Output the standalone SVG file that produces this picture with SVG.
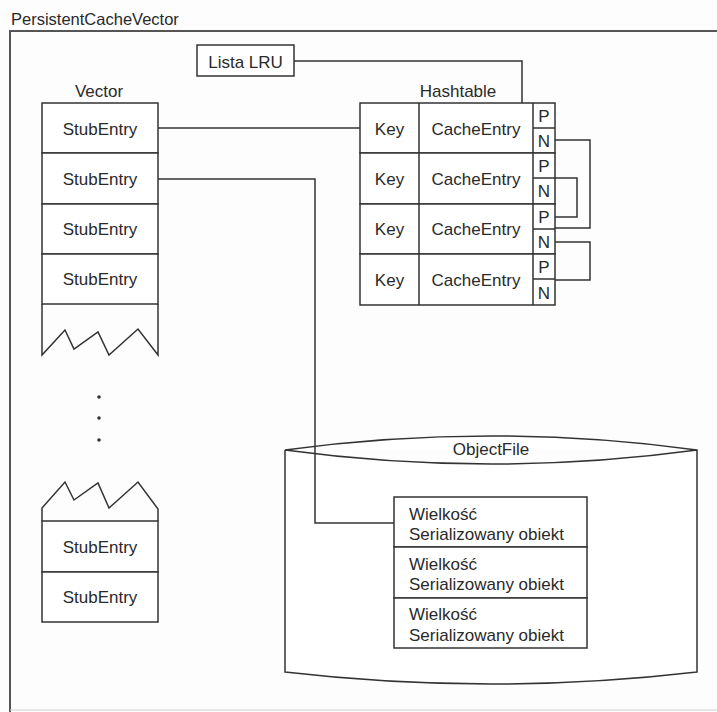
<svg xmlns="http://www.w3.org/2000/svg" width="717" height="712" viewBox="0 0 717 712">
<style>
  text { font-family: "Liberation Sans", Arial, sans-serif; font-size: 17px; fill: #2a2a2a; }
  .c { text-anchor: middle; }
  .box { fill: #fff; stroke: #333; stroke-width: 1.5; }
  .ln { fill: none; stroke: #333; stroke-width: 1.5; }
  .frame { fill: none; stroke: #555; stroke-width: 2; }
</style>
<rect width="717" height="712" fill="#fdfdfd"/>
<g id="frame">
  <text x="11" y="25" style="font-size:16.5px">PersistentCacheVector</text>
  <path class="frame" d="M10,712 V31 H717"/>
  <line x1="10" y1="710" x2="717" y2="710" stroke="#d0d0d0" stroke-width="1"/>
</g>
<g id="lista-lru">
  <rect class="box" x="197" y="45" width="97" height="31"/>
  <text class="c" x="245.5" y="68">Lista LRU</text>
</g>
<g id="vector">
  <text class="c" x="99" y="97">Vector</text>
  <rect class="box" x="42" y="103" width="116" height="50"/>
  <rect class="box" x="42" y="153" width="116" height="51"/>
  <rect class="box" x="42" y="204" width="116" height="50"/>
  <rect class="box" x="42" y="254" width="116" height="50"/>
  <text class="c" x="100" y="135">StubEntry</text>
  <text class="c" x="100" y="185">StubEntry</text>
  <text class="c" x="100" y="235">StubEntry</text>
  <text class="c" x="100" y="285">StubEntry</text>
  <path class="ln" d="M42,304 V355 L65,330 L74,349 L98,332 L109,355 L138,329 L158,355 V304"/>
  <circle cx="99" cy="397" r="1.8" fill="#333"/>
  <circle cx="99" cy="418" r="1.8" fill="#333"/>
  <circle cx="99" cy="440" r="1.8" fill="#333"/>
  <path class="ln" d="M42,521 V508 L65,482 L74,500 L98,483 L109,508 L138,482 L158,509 V521"/>
  <rect class="box" x="42" y="521" width="116" height="51"/>
  <rect class="box" x="42" y="572" width="116" height="50"/>
  <text class="c" x="100" y="553">StubEntry</text>
  <text class="c" x="100" y="603">StubEntry</text>
</g>
<g id="hashtable">
  <text class="c" x="458" y="97">Hashtable</text>
  <rect class="box" x="360" y="103" width="195" height="50"/>
  <rect class="box" x="360" y="153" width="195" height="51"/>
  <rect class="box" x="360" y="204" width="195" height="50"/>
  <rect class="box" x="360" y="254" width="195" height="51"/>
  <path class="ln" d="M419,103 V305 M533,103 V305 M533,128 H555 M533,178 H555 M533,229 H555 M533,279 H555"/>
  <text class="c" x="389.5" y="135">Key</text>
  <text class="c" x="389.5" y="185">Key</text>
  <text class="c" x="389.5" y="235">Key</text>
  <text class="c" x="389.5" y="286">Key</text>
  <text class="c" x="476" y="135">CacheEntry</text>
  <text class="c" x="476" y="185">CacheEntry</text>
  <text class="c" x="476" y="235">CacheEntry</text>
  <text class="c" x="476" y="286">CacheEntry</text>
  <g style="font-size:16px">
    <text class="c" x="544" y="122">P</text>
    <text class="c" x="544" y="147">N</text>
    <text class="c" x="544" y="172">P</text>
    <text class="c" x="544" y="197">N</text>
    <text class="c" x="544" y="223">P</text>
    <text class="c" x="544" y="248">N</text>
    <text class="c" x="544" y="273">P</text>
    <text class="c" x="544" y="299">N</text>
  </g>
</g>
<g id="objectfile">
  <path class="box" d="M285,450 V672 Q491,696 697,672 V450 Q491,478 285,450 Q491,422 697,450"/>
  <text class="c" x="491" y="455">ObjectFile</text>
  <rect class="box" x="394" y="497" width="193" height="50"/>
  <rect class="box" x="394" y="547" width="193" height="51"/>
  <rect class="box" x="394" y="598" width="193" height="50"/>
  <text x="409" y="520">Wielkość</text>
  <text x="409" y="540">Serializowany obiekt</text>
  <text x="409" y="570">Wielkość</text>
  <text x="409" y="590">Serializowany obiekt</text>
  <text x="409" y="620">Wielkość</text>
  <text x="409" y="641">Serializowany obiekt</text>
</g>
<g id="connectors">
  <path class="ln" d="M294,61 H522 V103"/>
  <path class="ln" d="M158,128 H360"/>
  <path class="ln" d="M158,179 H315 V523 H394"/>
  <path class="ln" d="M555,140 H590 V228 H555"/>
  <path class="ln" d="M555,178 H577 V217 H555"/>
  <path class="ln" d="M555,242 H590 V280 H555"/>
</g>
</svg>
